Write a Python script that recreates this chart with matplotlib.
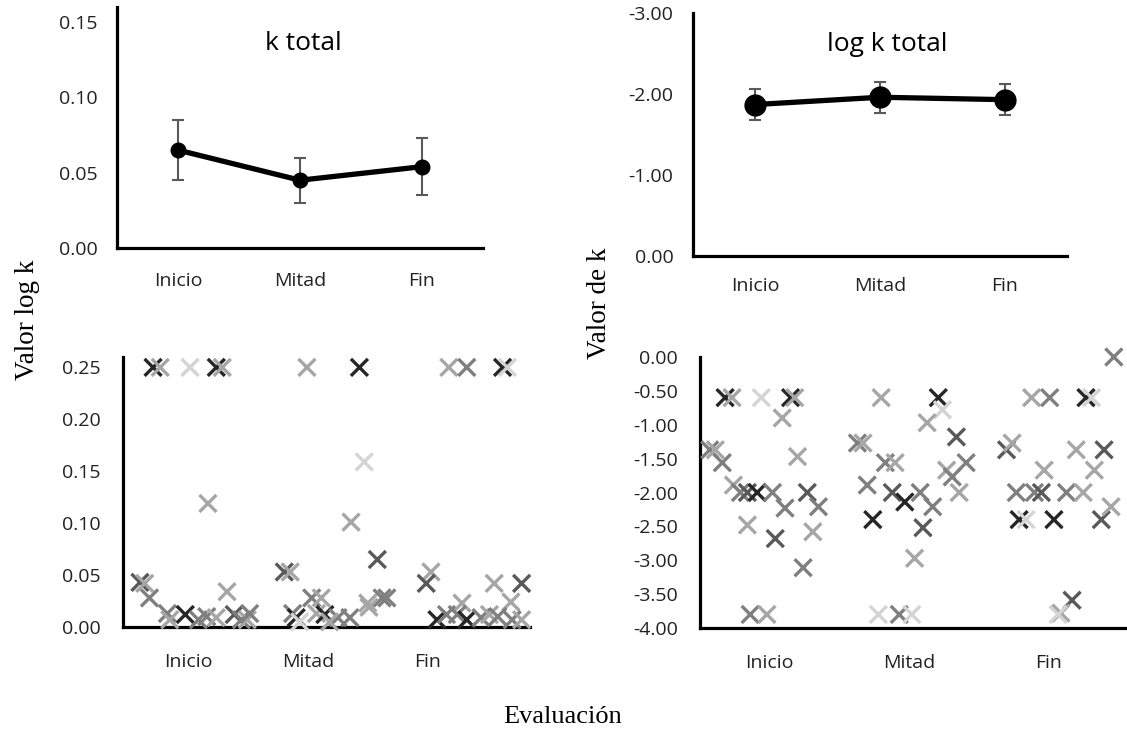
import numpy as np
import matplotlib
matplotlib.use('Agg')
import matplotlib.pyplot as plt

plt.rcParams['font.family'] = ['Open Sans', 'DejaVu Sans']

etapas = ['Inicio', 'Mitad', 'Fin']

# panel superior izquierdo: k total (media y error)
k_media = [0.065, 0.045, 0.054]
k_error = [0.020, 0.015, 0.019]

# panel superior derecho: log k total
logk_media = [-1.87, -1.96, -1.93]
logk_error = [0.19, 0.19, 0.19]

# panel inferior izquierdo: k individual (x con dispersion, y, tono de gris)
k_x = [0.70, 0.76, 1.01, 1.23, 1.28, 1.16, 0.59, 0.63, 0.67, 1.32, 0.82, 0.84, 0.97, 1.08,
       1.15, 1.23, 1.38, 1.44, 1.49, 1.51,
       1.99, 2.43, 2.47, 2.36, 2.58, 1.80, 1.85, 2.03, 2.11, 1.87, 1.90, 2.07, 2.14, 2.25,
       2.35, 2.50, 2.62, 2.51, 1.93, 2.18,
       3.18, 3.33, 3.63, 3.67, 3.03, 2.99, 2.66, 3.56, 3.79, 3.29, 3.70, 3.08, 3.16, 3.25,
       3.33, 3.45, 3.52, 3.59, 3.71, 3.79]
k_y = [0.25, 0.25, 0.25, 0.25, 0.25, 0.119, 0.043, 0.042, 0.028, 0.034, 0.013, 0.007, 0.012, 0.007,
       0.010, 0.009, 0.012, 0.007, 0.007, 0.013,
       0.25, 0.25, 0.159, 0.101, 0.065, 0.053, 0.053, 0.028, 0.028, 0.013, 0.009, 0.013, 0.012, 0.009,
       0.009, 0.023, 0.028, 0.019, 0.005, 0.005,
       0.25, 0.25, 0.25, 0.25, 0.053, 0.042, 0.028, 0.042, 0.042, 0.023, 0.024, 0.007, 0.012, 0.012,
       0.007, 0.009, 0.012, 0.010, 0.007, 0.007]
k_tono = [0, 3, 4, 0, 3, 3, 1, 3, 2, 3, 2, 3, 0, 2,
          2, 3, 1, 2, 3, 2,
          3, 0, 4, 3, 1, 1, 3, 2, 3, 2, 0, 3, 0, 2,
          2, 3, 2, 3, 4, 3,
          3, 2, 0, 4, 3, 1, 2, 3, 1, 3, 3, 0, 2, 2,
          0, 2, 3, 2, 2, 3]

# panel inferior derecho: log k individual
lk_x = [0.68, 0.73, 0.94, 1.15, 1.18, 1.09, 0.57, 0.61, 0.66, 1.20, 0.74, 0.79, 0.84, 0.91,
        1.02, 1.27, 1.11, 1.35, 0.84, 1.04, 1.31, 1.24, 0.86, 0.98,
        1.80, 2.21, 2.24, 2.13, 2.34, 1.63, 1.67, 1.83, 1.90, 2.41, 2.27, 2.31, 1.70, 1.88,
        1.97, 2.08, 2.17, 2.36, 1.74, 2.10, 2.04, 1.78, 1.93, 2.02,
        3.47, 2.88, 3.01, 3.27, 3.31, 2.70, 2.74, 3.20, 3.40, 2.97, 3.33, 2.77, 2.90, 2.95,
        3.13, 3.25, 2.79, 2.84, 3.04, 3.38, 3.45, 3.17, 3.09, 3.07]
lk_y = [-0.60, -0.60, -0.60, -0.60, -0.60, -0.90, -1.37, -1.37, -1.56, -1.47, -1.89, -2.00, -2.00, -2.00,
        -2.00, -2.00, -2.23, -2.21, -2.48, -2.68, -2.58, -3.11, -3.80, -3.80,
        -0.60, -0.60, -0.78, -0.97, -1.18, -1.27, -1.27, -1.56, -1.56, -1.56, -1.67, -1.77, -1.89, -2.00,
        -2.14, -2.00, -2.21, -2.00, -2.40, -2.52, -2.97, -3.80, -3.80, -3.80,
        0.00, -0.60, -0.60, -0.60, -0.60, -1.37, -1.27, -1.37, -1.37, -1.67, -1.67, -2.00, -2.00, -2.00,
        -2.00, -2.00, -2.40, -2.40, -2.40, -2.40, -2.21, -3.59, -3.78, -3.80]
lk_tono = [0, 3, 4, 0, 3, 3, 2, 3, 2, 3, 3, 2, 1, 0,
           2, 1, 2, 2, 3, 1, 3, 2, 2, 3,
           3, 0, 4, 3, 1, 2, 3, 2, 3, 2, 3, 2, 2, 1,
           0, 2, 2, 3, 0, 1, 3, 4, 2, 4,
           2, 3, 2, 0, 4, 1, 3, 3, 1, 3, 3, 2, 2, 1,
           2, 3, 0, 4, 0, 1, 3, 1, 3, 4]

grises = ['#262626', '#595959', '#7f7f7f', '#a6a6a6', '#d4d4d4']
W, H = 1127, 742
fig = plt.figure(figsize=(W / 100, H / 100), dpi=100)

def caja(l, t, r, b):
    return fig.add_axes([l / W, 1 - b / H, (r - l) / W, (b - t) / H])

def estilo(ax, xpad, ypad):
    for s in ['top', 'right']:
        ax.spines[s].set_visible(False)
    for s in ['left', 'bottom']:
        ax.spines[s].set_linewidth(2.3)
        ax.spines[s].set_color('black')
    ax.tick_params(axis='both', length=0, labelsize=14, colors='#222222')
    ax.tick_params(axis='x', pad=xpad)
    ax.tick_params(axis='y', pad=ypad)
    ax.set_facecolor('none')

pos = np.arange(1, 4)

# superior izquierdo
ax1 = caja(117, 7, 483, 248)
ax1.errorbar(pos, k_media, yerr=k_error, color='black', lw=3.8, marker='o', ms=10.5,
             ecolor='#595959', elinewidth=1.5, capsize=4, capthick=1.5)
ax1.set_xlim(0.5, 3.5)
ax1.set_ylim(0, 0.16)
ax1.set_yticks([0, 0.05, 0.10, 0.15])
ax1.set_yticklabels(['0.00', '0.05', '0.10', '0.15'])
ax1.set_xticks(pos)
ax1.set_xticklabels(etapas)
ax1.text(0.51, 0.85, 'k total', transform=ax1.transAxes, ha='center', va='center', fontsize=19)
estilo(ax1, 17, 14)

# superior derecho
ax2 = caja(693, 13, 1067, 256)
ax2.errorbar(pos, logk_media, yerr=logk_error, color='black', lw=3.8, marker='o', ms=15,
             ecolor='#595959', elinewidth=1.5, capsize=4, capthick=1.5)
ax2.set_xlim(0.5, 3.5)
ax2.set_ylim(0, -3)
ax2.set_yticks([0, -1, -2, -3])
ax2.set_yticklabels(['0.00', '-1.00', '-2.00', '-3.00'])
ax2.set_xticks(pos)
ax2.set_xticklabels(etapas)
ax2.text(0.52, 0.87, 'log k total', transform=ax2.transAxes, ha='center', va='center', fontsize=19)
estilo(ax2, 15, 14)

# inferior izquierdo
ax3 = caja(123, 357, 530, 627)
ax3.scatter(k_x, k_y, marker='x', s=150, linewidths=2.4,
            c=[grises[t] for t in k_tono], clip_on=False, zorder=3)
ax3.set_xlim(0.448, 3.86)
ax3.set_ylim(0, 0.26)
ax3.set_yticks(np.arange(0, 0.26, 0.05))
ax3.set_yticklabels(['%.2f' % v for v in np.arange(0, 0.26, 0.05)])
ax3.set_xticks(pos)
ax3.set_xticklabels(etapas)
estilo(ax3, 19, 16)

# inferior derecho
ax4 = caja(700, 357, 1125, 628)
ax4.scatter(lk_x, lk_y, marker='x', s=150, linewidths=2.4,
            c=[grises[t] for t in lk_tono], clip_on=False, zorder=3)
ax4.set_xlim(0.5, 3.55)
ax4.set_ylim(-4, 0)
ax4.set_yticks(np.arange(-4, 0.01, 0.5))
ax4.set_yticklabels(['%.2f' % v for v in np.arange(-4, 0.01, 0.5)])
ax4.set_xticks(pos)
ax4.set_xticklabels(etapas)
estilo(ax4, 19, 16)

serif = ['Liberation Serif', 'DejaVu Serif']
fig.text(28 / W, 1 - 320 / H, 'Valor log k', rotation=90, ha='center', va='center',
         fontsize=19.5, family=serif)
fig.text(600 / W, 1 - 303 / H, 'Valor de k', rotation=90, ha='center', va='center',
         fontsize=19.5, family=serif)
fig.text(563 / W, 1 - 717 / H, 'Evaluación', ha='center', va='center',
         fontsize=19, family=serif)

fig.savefig('out.png', dpi=100)
